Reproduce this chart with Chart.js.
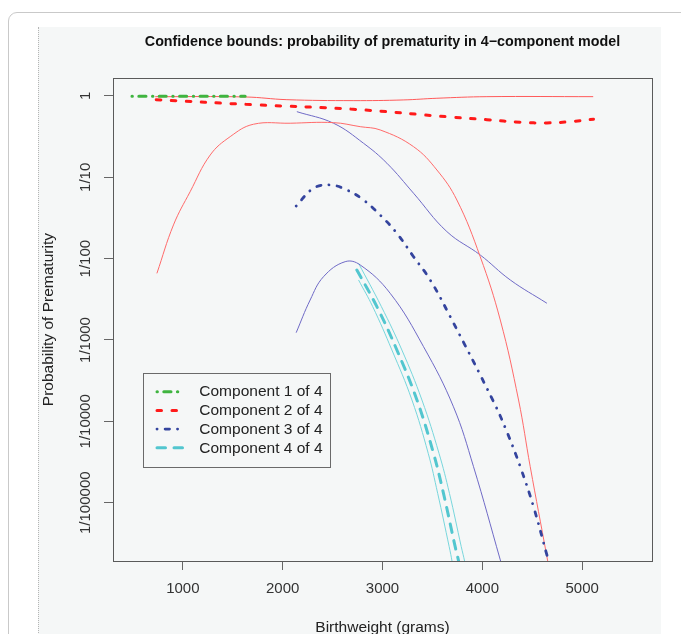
<!DOCTYPE html>
<html><head><meta charset="utf-8">
<script src="https://cdn.jsdelivr.net/npm/chart.js@4/dist/chart.umd.min.js"></script>
<style>
html,body{margin:0;padding:0;background:#fff;width:681px;height:634px;overflow:hidden}
#card{position:absolute;left:8px;top:12px;width:720px;height:700px;border:1px solid #c9c9c9;border-radius:9px;background:#fff}
#panel{position:absolute;left:38px;top:27px;width:622px;height:620px;background:#f5f7f7;border-left:1px dotted #b5b5b5}
#wrap{position:absolute;left:0;top:0;width:681px;height:634px}
</style></head>
<body>
<div id="card"></div><div id="panel"></div>
<div id="wrap"><canvas id="c" width="681" height="634"></canvas></div>
<script>
// ---- tick labels ----
const xTickValues = [1000, 2000, 3000, 4000, 5000];
const yTickValues = [1, 0.1, 0.01, 0.001, 0.0001, 0.00001];
const yTickLabels = ['1', '1/10', '1/100', '1/1000', '1/10000', '1/100000'];
const legendLabels = ['Component 1 of 4', 'Component 2 of 4', 'Component 3 of 4', 'Component 4 of 4'];

// ---- Component 1 (green) ----
const comp1X    = [490, 1050, 1624];
const comp1Mean = [0.99, 0.99, 0.99];

// ---- Component 2 (red) ----
const comp2X     = [733, 1704, 2706, 3708, 4046, 4380, 4647, 4881, 5114];
const comp2Mean  = [0.90, 0.78, 0.686, 0.547, 0.511, 0.475, 0.466, 0.483, 0.517];
const comp2UpX   = [723, 1624, 2042, 2706, 3207, 3545, 4046, 5111];
const comp2Upper = [0.98, 0.972, 0.90, 0.876, 0.893, 0.937, 0.98, 0.98];
const comp2LoX   = [740, 906, 1073, 1274, 1474, 1707, 2075, 2509, 2777, 2977, 3311, 3545, 3745, 3979, 4180, 4363, 4480, 4647, 4700];
const comp2Lower = [0.0066, 0.026, 0.0666, 0.188, 0.316, 0.449, 0.462, 0.470, 0.419, 0.382, 0.238, 0.123, 0.0526, 0.01057, 0.00176, 1.83e-4, 2.77e-5, 2.17e-6, 9.5e-7];

// ---- Component 3 (blue) ----
const comp3X     = [2135, 2309, 2476, 2643, 2810, 2977, 3144, 3311, 3478, 3678, 4112, 4246, 4380, 4513, 4647, 4665];
const comp3Mean  = [0.0444, 0.0733, 0.0805, 0.0699, 0.0526, 0.0344, 0.0205, 0.01057, 0.00547, 0.00194, 1.75e-4, 7.46e-5, 2.77e-5, 8.93e-6, 2.28e-6, 1.9e-6];
const comp3UpX   = [2142, 2509, 2810, 3044, 3311, 3645, 3979, 4280, 4647];
const comp3Upper = [0.641, 0.462, 0.262, 0.149, 0.0637, 0.0215, 0.0111, 0.00547, 0.00283];
const comp3LoX   = [2135, 2275, 2409, 2626, 2777, 3077, 3411, 3711, 3912, 4180, 4200];
const comp3Lower = [0.00123, 0.0031, 0.0060, 0.00918, 0.00836, 0.00375, 8.28e-4, 1.51e-4, 2.77e-5, 1.98e-6, 1.6e-6];

// ---- Component 4 (cyan) ----
const comp4X     = [2743, 2944, 3144, 3345, 3511, 3611, 3728, 3764, 3775];
const comp4Mean  = [7.26e-3, 2.57e-3, 7.54e-4, 1.83e-4, 4.05e-5, 1.30e-5, 2.88e-6, 1.87e-6, 1.5e-6];
const comp4UpX   = [2760, 2989, 3194, 3395, 3566, 3671, 3789, 3824, 3835];
const comp4Upper = [8.77e-3, 2.57e-3, 7.54e-4, 1.83e-4, 4.05e-5, 1.30e-5, 2.88e-6, 1.87e-6, 1.5e-6];
const comp4LoX   = [2760, 2902, 3094, 3295, 3458, 3553, 3668, 3698, 3708];
const comp4Lower = [5.47e-3, 2.57e-3, 7.54e-4, 1.83e-4, 4.05e-5, 1.30e-5, 2.88e-6, 1.87e-6, 1.5e-6];

const FONT = '"Liberation Sans", Arial, Helvetica, sans-serif';
const pts = (xs, ys) => xs.map((x, i) => ({x: x, y: ys[i]}));

function mainLine(label, xs, ys, color, dash, width, li) {
  return {label: label, data: pts(xs, ys), borderColor: color, borderWidth: width, borderDash: dash,
    borderCapStyle: 'round', pointRadius: 0, fill: false, tension: 0.4, legendIndex: li};
}
function ciLine(xs, ys, color) {
  return {label: '', data: pts(xs, ys), borderColor: color, borderWidth: 1, pointRadius: 0, fill: false,
    tension: 0.4};
}

const datasets = [
  mainLine(legendLabels[0], comp1X, comp1Mean, '#3fb43f', [0.4, 6.4, 7.2, 6.4], 3, 0),
  mainLine(legendLabels[1], comp2X, comp2Mean, '#ff1a1a', [4.5, 10.5], 3, 1),
  mainLine(legendLabels[2], comp3X, comp3Mean, '#34449e', [0.1, 8, 4.4, 8], 2.8, 2),
  mainLine(legendLabels[3], comp4X, comp4Mean, '#52c6cf', [8.5, 8.5], 3, 3),
  ciLine(comp2UpX, comp2Upper, '#ff5a5a'),
  ciLine(comp2LoX, comp2Lower, '#ff6a6a'),
  ciLine(comp3UpX, comp3Upper, '#6f6ac6'),
  ciLine(comp3LoX, comp3Lower, '#6f6ac6'),
  ciLine(comp4UpX, comp4Upper, '#78d6dc'),
  ciLine(comp4LoX, comp4Lower, '#78d6dc')
];

const plotBox = {
  id: 'plotBox',
  afterDatasetsDraw(chart) {
    const a = chart.chartArea, ctx = chart.ctx;
    ctx.save();
    ctx.strokeStyle = '#5a5a5a';
    ctx.lineWidth = 1;
    ctx.strokeRect(Math.round(a.left) + 0.5, Math.round(a.top) + 0.5, Math.round(a.right - a.left), Math.round(a.bottom - a.top));
    ctx.restore();
  }
};

const insetLegend = {
  id: 'insetLegend',
  afterDraw(chart) {
    const ctx = chart.ctx;
    const L = 143, T = 373, W = 187, H = 94, pitch = 18.7;
    ctx.save();
    ctx.fillStyle = '#f5f7f7';
    ctx.fillRect(L, T, W, H);
    ctx.strokeStyle = '#6a6a6a';
    ctx.lineWidth = 1;
    ctx.strokeRect(L + 0.5, T + 0.5, W, H);
    chart.data.datasets.forEach(ds => {
      if (ds.legendIndex === undefined) return;
      const y = T + pitch * (ds.legendIndex + 1);
      ctx.save();
      ctx.strokeStyle = ds.borderColor;
      ctx.lineWidth = ds.borderWidth;
      ctx.lineCap = ds.borderCapStyle || 'butt';
      ctx.setLineDash(ds.borderDash || []);
      ctx.beginPath();
      ctx.moveTo(L + 14, y);
      ctx.lineTo(L + 41, y);
      ctx.stroke();
      ctx.restore();
      ctx.fillStyle = '#222';
      ctx.font = '15.5px ' + FONT;
      ctx.textBaseline = 'middle';
      ctx.textAlign = 'left';
      ctx.fillText(ds.label, L + 56.3, y + 0.5);
    });
    ctx.restore();
  }
};

new Chart(document.getElementById('c'), {
  type: 'line',
  data: {datasets: datasets},
  plugins: [plotBox, insetLegend],
  options: {
    responsive: false,
    animation: false,
    layout: {padding: {left: 38, right: 29, top: 0, bottom: 0}},
    plugins: {
      legend: {display: false},
      tooltip: {enabled: false},
      title: {
        display: true,
        text: 'Confidence bounds: probability of prematurity in 4\u2212component model',
        fullSize: false,
        color: '#111',
        font: {family: FONT, size: 14.3, weight: 'bold'},
        padding: {top: 33.4, bottom: 27.7}
      }
    },
    scales: {
      x: {
        type: 'linear',
        min: 300, max: 5700,
        afterBuildTicks: s => { s.ticks = xTickValues.map(v => ({value: v})); },
        afterFit: s => { s.height = 73; },
        grid: {drawOnChartArea: false, drawTicks: true, tickLength: 9, color: '#666', tickWidth: 1},
        border: {display: false},
        ticks: {padding: 10, autoSkip: false, maxRotation: 0, color: '#333', font: {family: FONT, size: 15},
          callback: v => String(v)},
        title: {display: true, text: 'Birthweight (grams)', color: '#222', font: {family: FONT, size: 15.5},
          padding: {top: 0, bottom: -3}}
      },
      y: {
        type: 'logarithmic',
        min: 1.92e-6, max: 1.65,
        afterBuildTicks: s => { s.ticks = yTickValues.map(v => ({value: v})); },
        afterFit: s => { s.width = 75; },
        grid: {drawOnChartArea: false, drawTicks: true, tickLength: 9, color: '#666', tickWidth: 1},
        border: {display: false},
        ticks: {minRotation: 90, maxRotation: 90, crossAlign: 'center', padding: -13.3, autoSkip: false,
          color: '#333', font: {family: FONT, size: 15},
          callback: (v, i) => yTickLabels[i]},
        title: {display: true, text: 'Probability of Prematurity', color: '#222', font: {family: FONT, size: 15.5},
          padding: {top: 1, bottom: 0}}
      }
    }
  }
});
</script>
</body></html>
